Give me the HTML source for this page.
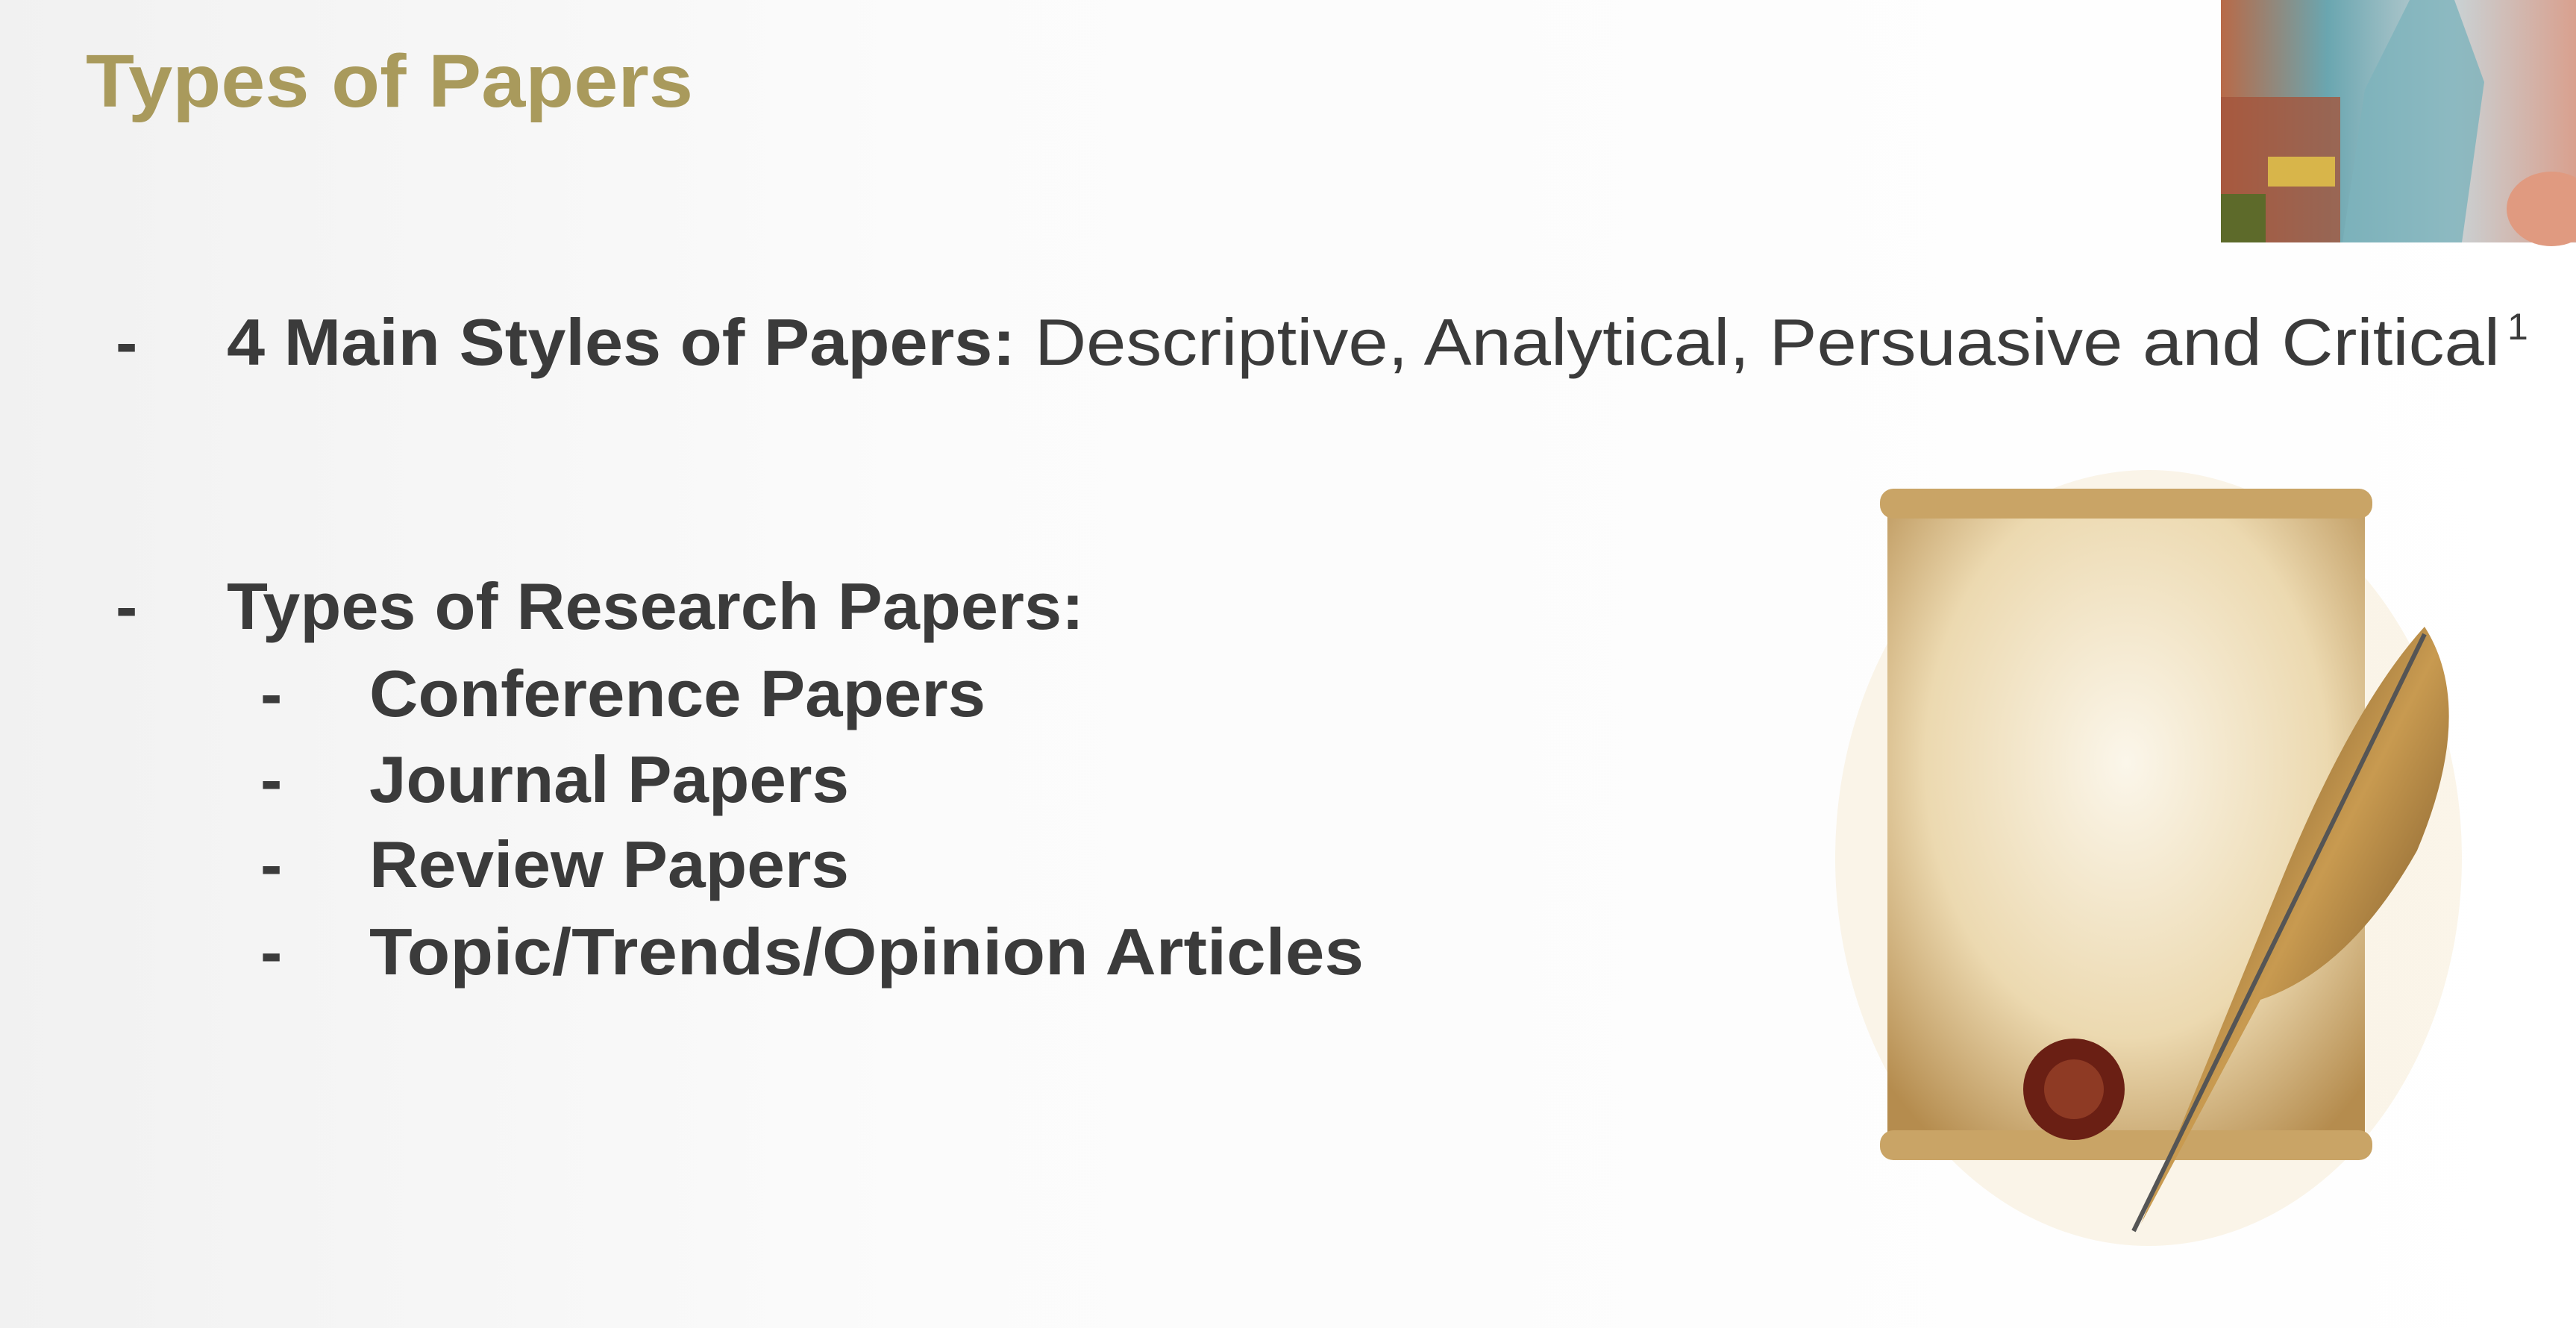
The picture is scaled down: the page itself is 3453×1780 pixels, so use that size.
<!DOCTYPE html>
<html><head><meta charset="utf-8"><style>
html,body{margin:0;padding:0;background:#fff;}
svg{display:block;}
text{font-family:"Liberation Sans",sans-serif;}
</style></head><body>
<svg width="3453" height="1780" viewBox="0 0 3453 1780">
<defs>
<linearGradient id="bg" x1="0" y1="0" x2="1" y2="0"><stop offset="0" stop-color="#f1f1f1"/><stop offset="0.35" stop-color="#fbfbfb"/><stop offset="1" stop-color="#ffffff"/></linearGradient>
<radialGradient id="parch" cx="0.5" cy="0.4" r="0.7"><stop offset="0" stop-color="#fbf6ea"/><stop offset="0.6" stop-color="#ecd9b0"/><stop offset="1" stop-color="#b58c4e"/></radialGradient>
<linearGradient id="feather" x1="0" y1="0" x2="1" y2="1"><stop offset="0" stop-color="#3a2410"/><stop offset="0.5" stop-color="#c89a50"/><stop offset="1" stop-color="#4a2e12"/></linearGradient>
<linearGradient id="cam" x1="0" y1="0" x2="1" y2="0"><stop offset="0" stop-color="#b86a48"/><stop offset="0.3" stop-color="#6aa6b0"/><stop offset="0.65" stop-color="#c9d3d6"/><stop offset="1" stop-color="#d9a08e"/></linearGradient>
</defs>
<rect width="3453" height="1780" fill="url(#bg)"/>
<text x="115" y="143" font-size="100" font-weight="bold" fill="#a99a5c" textLength="814" lengthAdjust="spacingAndGlyphs">Types of Papers</text>
<g fill="#3b3b3b" font-size="88">
<text x="155" y="489" font-weight="bold">-</text>
<text x="304" y="489" font-weight="bold" textLength="1057" lengthAdjust="spacingAndGlyphs">4 Main Styles of Papers:</text>
<text x="1387" y="489" textLength="1964" lengthAdjust="spacingAndGlyphs">Descriptive, Analytical, Persuasive and Critical</text>
<text x="3361" y="455" font-size="50">1</text>
<text x="155" y="843" font-weight="bold">-</text>
<text x="304" y="843" font-weight="bold" textLength="1149" lengthAdjust="spacingAndGlyphs">Types of Research Papers:</text>
<text x="349" y="960" font-weight="bold">-</text>
<text x="495" y="960" font-weight="bold" textLength="826" lengthAdjust="spacingAndGlyphs">Conference Papers</text>
<text x="349" y="1075" font-weight="bold">-</text>
<text x="495" y="1075" font-weight="bold" textLength="643" lengthAdjust="spacingAndGlyphs">Journal Papers</text>
<text x="349" y="1189" font-weight="bold">-</text>
<text x="495" y="1189" font-weight="bold" textLength="643" lengthAdjust="spacingAndGlyphs">Review Papers</text>
<text x="349" y="1306" font-weight="bold">-</text>
<text x="495" y="1306" font-weight="bold" textLength="1333" lengthAdjust="spacingAndGlyphs">Topic/Trends/Opinion Articles</text>
</g>
<g>
<rect x="2977" y="0" width="476" height="325" fill="url(#cam)"/>
<polygon points="3140,325 3170,120 3230,0 3290,0 3330,110 3300,325" fill="#7db3bb" opacity="0.8"/>
<rect x="2977" y="130" width="160" height="195" fill="#a4553c" opacity="0.8"/>
<rect x="3040" y="210" width="90" height="40" fill="#d8b54a"/>
<rect x="2977" y="260" width="60" height="65" fill="#5d6a2a"/>
<ellipse cx="3420" cy="280" rx="60" ry="50" fill="#e09a80"/>
</g>
<g>
<ellipse cx="2880" cy="1150" rx="420" ry="520" fill="#f3e2c0" opacity="0.35"/>
<rect x="2530" y="670" width="640" height="880" fill="url(#parch)" rx="20"/>
<rect x="2520" y="655" width="660" height="40" rx="18" fill="#c9a466"/>
<rect x="2520" y="1515" width="660" height="40" rx="18" fill="#c9a466"/>
<circle cx="2780" cy="1460" r="68" fill="#6a1f14"/>
<circle cx="2780" cy="1460" r="40" fill="#8e3a24"/>
<path d="M2870,1640 L3050,1200 Q3150,950 3250,840 Q3320,950 3240,1140 Q3150,1300 3030,1340 Z" fill="url(#feather)"/>
<line x1="2860" y1="1650" x2="3250" y2="850" stroke="#555" stroke-width="6"/>
</g>
</svg>
</body></html>
